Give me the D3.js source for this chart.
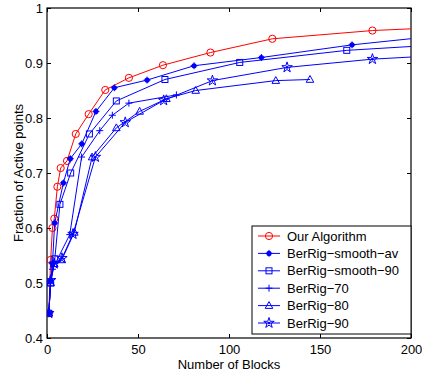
<!DOCTYPE html>
<html>
<meta charset="utf-8" />
<script src="https://cdn.jsdelivr.net/npm/d3@7"></script>
<style>
  html, body { margin: 0; padding: 0; background: #fff; }
  svg { font-family: "Liberation Sans", Arial, sans-serif; }
  .axis text { font-size: 13px; fill: #000; }
  .axis path, .axis line { stroke: #000; }
</style>
<body>
<div id="chart"></div>
<script>
  // series names, in legend order
  var seriesNames = ['Our Algorithm', 'BerRig\u2212smooth\u2212av', 'BerRig\u2212smooth\u221290',
    'BerRig\u221270', 'BerRig\u221280', 'BerRig\u221290'];

  // [number of blocks, fraction of active points]
  var ourAlgorithm = [[1, .445], [2, .542], [3, .600], [4, .617], [5.7, .675], [7.5, .709], [11, .722],
    [15.8, .771], [22.9, .807], [32, .851], [45, .873], [63.7, .896], [89.8, .919], [123.8, .944],
    [178.8, .959], [240, .968]];
  var smoothAv = [[1, .445], [2, .505], [3, .535], [4.2, .609], [9, .682], [12.8, .726], [19.1, .753],
    [26.9, .812], [37, .855], [55, .869], [80.8, .895], [117.8, .910], [167.6, .933], [240, .958]];
  var smooth90 = [[1, .445], [2, .500], [4.3, .544], [7.1, .643], [13, .700], [23.3, .771], [38.1, .831],
    [64.8, .870], [105.9, .901], [164.7, .923], [240, .938]];
  var berRig70 = [[1, .445], [2, .500], [3, .525], [12.5, .588], [19, .729], [29, .777], [35.9, .805],
    [45, .827], [71.1, .842]];
  var berRig80 = [[1, .445], [2, .500], [4, .535], [8.1, .542], [15, .592], [24.8, .729], [38.1, .782],
    [50.9, .812], [65.6, .835], [81.7, .850], [125.7, .868], [144.5, .870]];
  var berRig90 = [[1, .445], [2, .505], [4, .535], [8.2, .545], [14.3, .589], [26.6, .729], [43, .792],
    [64.1, .832], [90.9, .868], [131.9, .892], [178.8, .907], [240, .918]];

  var xTicks = [0, 50, 100, 150, 200];
  var yTicks = [0.4, 0.5, 0.6, 0.7, 0.8, 0.9, 1];

  var allSeries = [ourAlgorithm, smoothAv, smooth90, berRig70, berRig80, berRig90];
  var colors = ['#ff0000', '#0000ff', '#0000ff', '#0000ff', '#0000ff', '#0000ff'];
  var markers = ['circle', 'dot', 'square', 'plus', 'triangle', 'star'];

  var W = 422, H = 377;
  var margin = { top: 8, right: 11, bottom: 39, left: 47 };
  var width = W - margin.left - margin.right,
    height = H - margin.top - margin.bottom;

  var svg = d3.select('#chart').append('svg').attr('width', W).attr('height', H);
  var g = svg.append('g').attr('transform', 'translate(' + margin.left + ',' + margin.top + ')');

  var x = d3.scaleLinear().domain([0, 200]).range([0, width]);
  var y = d3.scaleLinear().domain([0.4, 1]).range([height, 0]);

  g.append('clipPath').attr('id', 'clip')
    .append('rect').attr('width', width).attr('height', height);

  // axes with inward ticks on all four sides
  g.append('g').attr('class', 'axis').attr('transform', 'translate(0,' + height + ')')
    .call(d3.axisBottom(x).tickValues(xTicks).tickSize(-4).tickPadding(7).tickFormat(d3.format('d')))
    .call(function (s) { s.select('.domain').remove(); });
  g.append('g').attr('class', 'axis')
    .call(d3.axisTop(x).tickValues(xTicks).tickSize(-4).tickFormat(''))
    .call(function (s) { s.select('.domain').remove(); });
  g.append('g').attr('class', 'axis')
    .call(d3.axisLeft(y).tickValues(yTicks).tickSize(-4).tickPadding(4).tickFormat(function (d) { return d === 1 ? '1' : d3.format('.1f')(d); }))
    .call(function (s) { s.select('.domain').remove(); });
  g.append('g').attr('class', 'axis').attr('transform', 'translate(' + width + ',0)')
    .call(d3.axisRight(y).tickValues(yTicks).tickSize(-4).tickFormat(''))
    .call(function (s) { s.select('.domain').remove(); });

  g.append('rect').attr('width', width).attr('height', height)
    .attr('fill', 'none').attr('stroke', '#000').attr('stroke-width', 1.2);

  function drawMarker(sel, type, color) {
    if (type === 'circle') {
      sel.append('circle').attr('r', 3.6).attr('fill', 'none').attr('stroke', color);
    } else if (type === 'dot') {
      sel.append('circle').attr('r', 2.6).attr('fill', color);
      sel.append('path').attr('d', 'M-3.5,0H3.5M0,-3.5V3.5').attr('stroke', color);
    } else if (type === 'square') {
      sel.append('rect').attr('x', -3).attr('y', -3).attr('width', 6).attr('height', 6)
        .attr('fill', 'none').attr('stroke', color);
    } else if (type === 'plus') {
      sel.append('path').attr('d', 'M-3.5,0H3.5M0,-3.5V3.5').attr('stroke', color);
    } else if (type === 'triangle') {
      sel.append('path').attr('d', 'M0,-4L3.8,2.8H-3.8Z').attr('fill', 'none').attr('stroke', color);
    } else if (type === 'star') {
      sel.append('path').attr('d', d3.symbol().type(d3.symbolStar).size(34)())
        .attr('fill', 'none').attr('stroke', color);
      sel.append('circle').attr('r', 1.3).attr('fill', color);
    }
  }

  var line = d3.line().x(function (d) { return x(d[0]); }).y(function (d) { return y(d[1]); });

  var plot = g.append('g').attr('clip-path', 'url(#clip)');
  allSeries.forEach(function (data, i) {
    plot.append('path').datum(data).attr('d', line)
      .attr('fill', 'none').attr('stroke', colors[i]).attr('stroke-width', 1);
    plot.append('g').selectAll('g').data(data).enter().append('g')
      .attr('transform', function (d) { return 'translate(' + x(d[0]) + ',' + y(d[1]) + ')'; })
      .each(function () { drawMarker(d3.select(this), markers[i], colors[i]); });
  });

  // legend
  var legend = g.append('g').attr('transform', 'translate(' + (width - 159) + ',' + (226 - margin.top) + ')');
  legend.append('rect').attr('width', 159).attr('height', 108)
    .attr('fill', '#fff').attr('stroke', '#000').attr('stroke-width', 1);
  seriesNames.forEach(function (name, i) {
    var row = legend.append('g').attr('transform', 'translate(0,' + (10 + i * 17.4) + ')');
    row.append('line').attr('x1', 6).attr('x2', 28).attr('stroke', colors[i]);
    drawMarker(row.append('g').attr('transform', 'translate(17,0)'), markers[i], colors[i]);
    row.append('text').attr('x', 35).attr('dy', '0.35em').style('font-size', '13px').text(name);
  });

  // axis titles
  svg.append('text').attr('x', margin.left + width / 2).attr('y', 369)
    .attr('text-anchor', 'middle').style('font-size', '13px').text('Number of Blocks');
  svg.append('text').attr('transform', 'translate(23,' + 173 + ') rotate(-90)')
    .attr('text-anchor', 'middle').style('font-size', '13px').text('Fraction of Active points');
</script>
</body>
</html>
